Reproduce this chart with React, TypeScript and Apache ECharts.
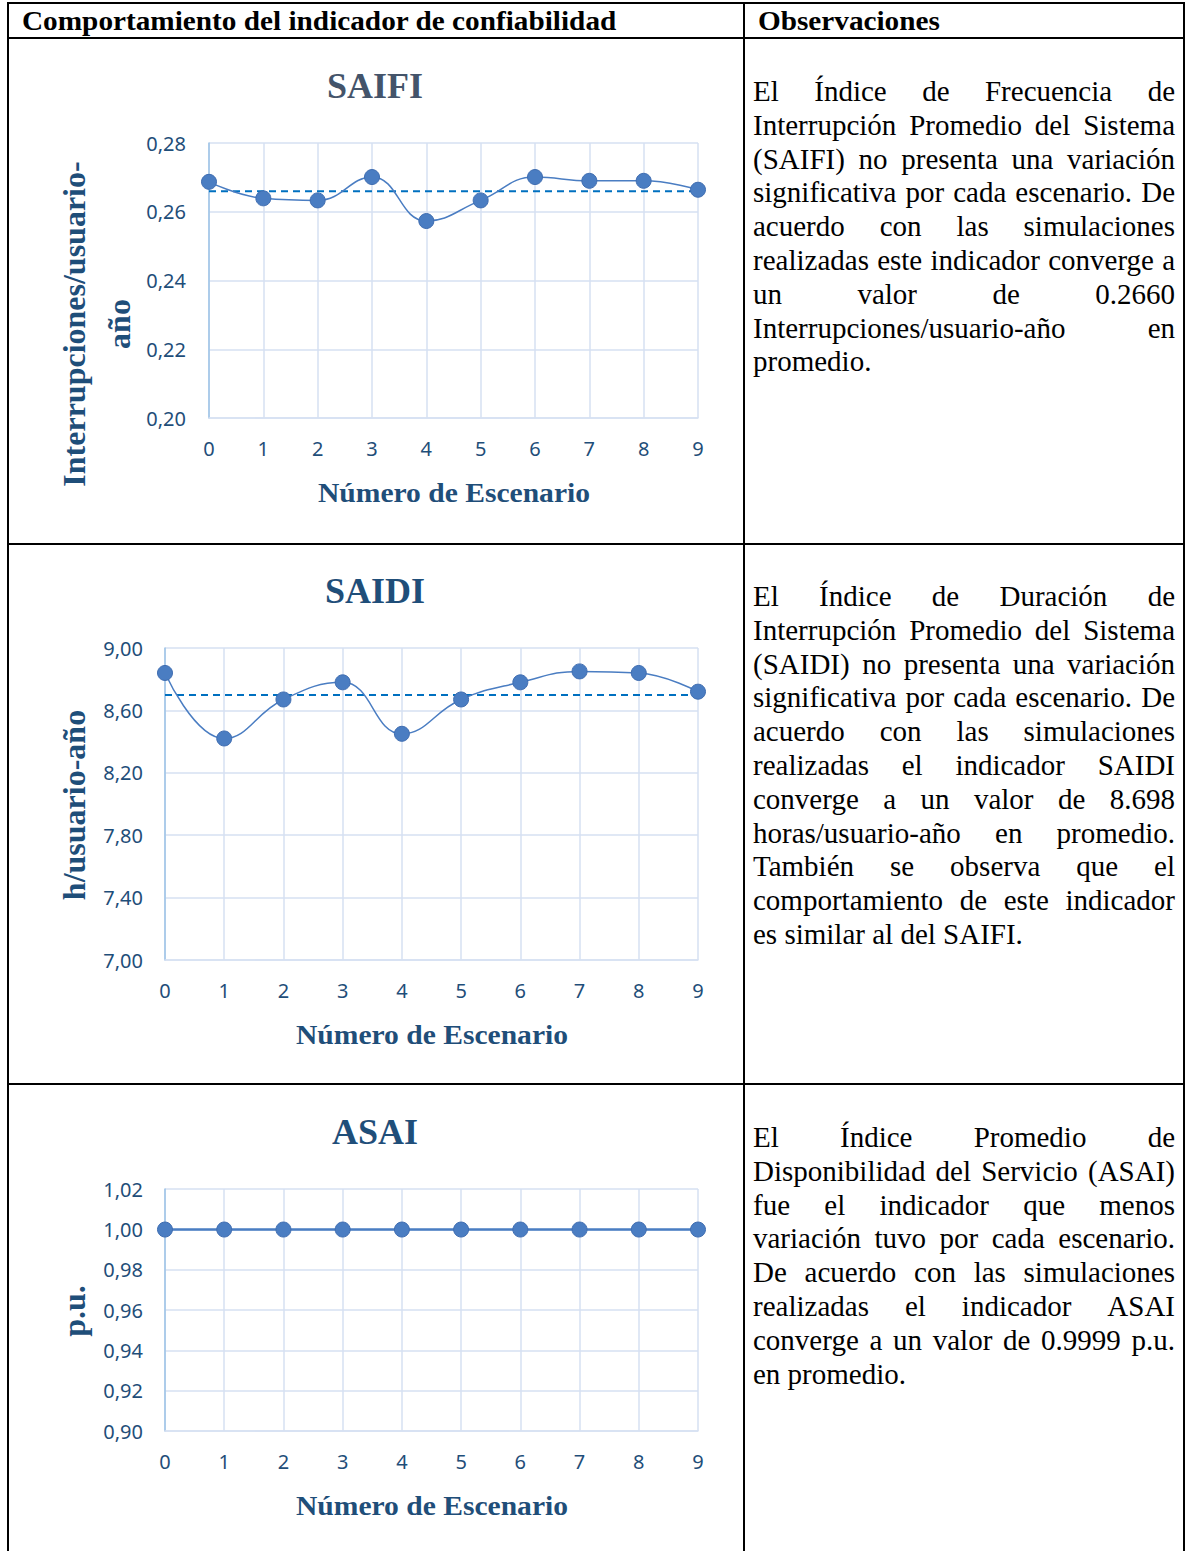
import React, { useEffect, useRef } from 'react';
import * as echarts from 'echarts';

// ---------- data ----------
const scenarios = ['0', '1', '2', '3', '4', '5', '6', '7', '8', '9'];

const saifiValues = [0.2687, 0.2639, 0.2633, 0.2701, 0.2573, 0.2633, 0.2701, 0.269, 0.269, 0.2664];
const saifiMean = 0.266;
const saifiRange = [0.2, 0.28];
const saifiStep = 0.02;

const saidiValues = [8.84, 8.42, 8.67, 8.78, 8.45, 8.67, 8.78, 8.85, 8.84, 8.72];
const saidiMean = 8.698;
const saidiRange = [7.0, 9.0];
const saidiStep = 0.4;

const asaiValues = [0.9999, 0.9999, 0.9999, 0.9999, 0.9999, 0.9999, 0.9999, 0.9999, 0.9999, 0.9999];
const asaiRange = [0.9, 1.02];
const asaiStep = 0.02;

const headerLeft = 'Comportamiento del indicador de confiabilidad';
const headerRight = 'Observaciones';
const xAxisName = 'Número de Escenario';

const para1 = [
  'El Índice de Frecuencia de',
  'Interrupción Promedio del Sistema',
  '(SAIFI) no presenta una variación',
  'significativa por cada escenario. De',
  'acuerdo con las simulaciones',
  'realizadas este indicador converge a',
  'un valor de 0.2660',
  'Interrupciones/usuario-año en',
  'promedio.',
];
const para2 = [
  'El Índice de Duración de',
  'Interrupción Promedio del Sistema',
  '(SAIDI) no presenta una variación',
  'significativa por cada escenario. De',
  'acuerdo con las simulaciones',
  'realizadas el indicador SAIDI',
  'converge a un valor de 8.698',
  'horas/usuario-año en promedio.',
  'También se observa que el',
  'comportamiento de este indicador',
  'es similar al del SAIFI.',
];
const para3 = [
  'El Índice Promedio de',
  'Disponibilidad del Servicio (ASAI)',
  'fue el indicador que menos',
  'variación tuvo por cada escenario.',
  'De acuerdo con las simulaciones',
  'realizadas el indicador ASAI',
  'converge a un valor de 0.9999 p.u.',
  'en promedio.',
];

// ---------- styles ----------
const SERIF = '"Liberation Serif", "Times New Roman", serif';
const SANS = '"Noto Sans", "Open Sans", sans-serif';
const DARK_BLUE = '#1F4E79';
const GRID_COLOR = '#D6E1F2';
const AXIS_COLOR = '#9DC3E6';
const LINE_COLOR = '#4A7DC2';
const MEAN_COLOR = '#0070C0';

const measureCtx = (() => {
  const c = document.createElement('canvas');
  return c.getContext('2d') as CanvasRenderingContext2D;
})();
function measure(text: string, font: string) {
  measureCtx.font = font;
  return measureCtx.measureText(text).width;
}

function textEl(text: string, x: number, y: number, opts: any = {}) {
  const {
    size = 29,
    family = SERIF,
    weight = 'normal',
    color = '#000',
    align = 'left',
    vAlign = 'middle',
    rotation = 0,
    scaleX = 1,
    lineHeight,
  } = opts;
  return {
    type: 'text',
    x,
    y,
    rotation,
    scaleX,
    silent: true,
    style: {
      text,
      x: 0,
      y: 0,
      fontSize: size,
      fontFamily: family,
      fontWeight: weight,
      fill: color,
      align,
      verticalAlign: vAlign,
      textAlign: align,
      textVerticalAlign: vAlign,
      lineHeight,
    },
  };
}

function fitScale(text: string, size: number, weight: string, target: number) {
  const w = measure(text, `${weight} ${size}px ${SERIF}`);
  return w > 0 ? target / w : 1;
}

function justifiedParagraph(lines: string[], x0: number, width: number, y0: number, lh: number) {
  const size = 29;
  const font = `${size}px ${SERIF}`;
  const els: any[] = [];
  lines.forEach((line, li) => {
    const y = y0 + li * lh;
    const words = line.split(/\s+/).filter(Boolean);
    const last = li === lines.length - 1;
    if (last || words.length < 2) {
      els.push(textEl(line, x0, y, { size }));
      return;
    }
    const ws = words.map((w) => measure(w, font));
    const sum = ws.reduce((a, b) => a + b, 0);
    const gap = (width - sum) / (words.length - 1);
    let x = x0;
    words.forEach((w, i) => {
      els.push(textEl(w, x, y, { size }));
      x += ws[i] + gap;
    });
  });
  return els;
}

const fmt = (v: number) => v.toFixed(2).replace('.', ',');

function makeGrid(left: number, top: number, width: number, height: number) {
  return { left, top, width, height, containLabel: false };
}

function makeX(gridIndex: number) {
  return {
    type: 'category',
    gridIndex,
    data: scenarios,
    boundaryGap: false,
    axisLine: { show: true, lineStyle: { color: GRID_COLOR, width: 1.5 } },
    axisTick: { show: false },
    axisLabel: { color: DARK_BLUE, fontFamily: SANS, fontSize: 20, margin: 20 },
    splitLine: { show: true, lineStyle: { color: GRID_COLOR, width: 1.5 } },
  };
}

function makeY(gridIndex: number, range: number[], step: number, margin: number) {
  return {
    type: 'value',
    gridIndex,
    min: range[0],
    max: range[1],
    interval: step,
    axisLine: { show: true, lineStyle: { color: AXIS_COLOR, width: 1.5 } },
    axisTick: { show: false },
    axisLabel: { color: DARK_BLUE, fontFamily: SANS, fontSize: 20, margin, formatter: fmt },
    splitLine: { show: true, lineStyle: { color: GRID_COLOR, width: 1.5 } },
  };
}

function makeSeries(idx: number, data: number[], lineWidth: number) {
  return {
    type: 'line',
    xAxisIndex: idx,
    yAxisIndex: idx,
    data,
    smooth: 0.45,
    symbol: 'circle',
    symbolSize: 15,
    lineStyle: { color: LINE_COLOR, width: lineWidth },
    itemStyle: { color: LINE_COLOR, borderColor: '#3F6DB1', borderWidth: 1 },
    z: 3,
  };
}

function makeMean(idx: number, mean: number) {
  return {
    type: 'line',
    xAxisIndex: idx,
    yAxisIndex: idx,
    data: scenarios.map(() => mean),
    symbol: 'none',
    silent: true,
    lineStyle: { color: MEAN_COLOR, width: 2, type: [7, 5] },
    z: 2,
  };
}

export default function App() {
  const ref = useRef<HTMLDivElement>(null);

  useEffect(() => {
    if (!ref.current) return;
    const chart = echarts.init(ref.current, undefined, { renderer: 'svg' });

    const lines: any[] = [];
    const L = (x1: number, y1: number, x2: number, y2: number) =>
      lines.push({
        type: 'line',
        silent: true,
        shape: { x1, y1, x2, y2 },
        style: { stroke: '#000', lineWidth: 2 },
        z: 10,
      });
    L(8, 3, 8, 1551);
    L(744, 3, 744, 1551);
    L(1184, 3, 1184, 1551);
    L(7, 3, 1185, 3);
    L(7, 38, 1185, 38);
    L(7, 544, 1185, 544);
    L(7, 1084, 1185, 1084);

    const hdrSize = 27;
    const headers = [
      textEl(headerLeft, 22, 21, {
        size: hdrSize,
        weight: 'bold',
        scaleX: fitScale(headerLeft, hdrSize, 'bold', 595),
      }),
      textEl(headerRight, 758, 21, {
        size: hdrSize,
        weight: 'bold',
        scaleX: fitScale(headerRight, hdrSize, 'bold', 182),
      }),
    ];

    const nameSize = 28;
    const nameScale = fitScale(xAxisName, nameSize, 'bold', 272);
    const chartTexts = [
      textEl('SAIFI', 375, 86, { size: 36, weight: 'bold', color: '#44546A', align: 'center' }),
      textEl('SAIDI', 375, 591, { size: 36, weight: 'bold', color: DARK_BLUE, align: 'center' }),
      textEl('ASAI', 375, 1132, { size: 36, weight: 'bold', color: DARK_BLUE, align: 'center' }),
      textEl(xAxisName, 454, 492, { size: nameSize, weight: 'bold', color: DARK_BLUE, align: 'center', scaleX: nameScale }),
      textEl(xAxisName, 432, 1034, { size: nameSize, weight: 'bold', color: DARK_BLUE, align: 'center', scaleX: nameScale }),
      textEl(xAxisName, 432, 1505, { size: nameSize, weight: 'bold', color: DARK_BLUE, align: 'center', scaleX: nameScale }),
      textEl('Interrupciones/usuario-\naño', 96, 324, {
        size: 32,
        weight: 'bold',
        color: DARK_BLUE,
        align: 'center',
        rotation: Math.PI / 2,
        lineHeight: 45,
      }),
      textEl('h/usuario-año', 74, 805, { size: 32, weight: 'bold', color: DARK_BLUE, align: 'center', rotation: Math.PI / 2 }),
      textEl('p.u.', 74, 1311, { size: 32, weight: 'bold', color: DARK_BLUE, align: 'center', rotation: Math.PI / 2 }),
    ];

    const paragraphs = [
      ...justifiedParagraph(para1, 753, 422, 91, 33.8),
      ...justifiedParagraph(para2, 753, 422, 596, 33.8),
      ...justifiedParagraph(para3, 753, 422, 1137, 33.8),
    ];

    chart.setOption({
      animation: false,
      backgroundColor: '#fff',
      grid: [makeGrid(209, 143, 489, 275), makeGrid(165, 648, 533, 312), makeGrid(165, 1189, 533, 242)],
      xAxis: [makeX(0), makeX(1), makeX(2)],
      yAxis: [makeY(0, saifiRange, saifiStep, 23), makeY(1, saidiRange, saidiStep, 22), makeY(2, asaiRange, asaiStep, 22)],
      series: [
        makeMean(0, saifiMean),
        makeSeries(0, saifiValues, 1.5),
        makeMean(1, saidiMean),
        makeSeries(1, saidiValues, 1.5),
        makeSeries(2, asaiValues, 2.5),
      ],
      graphic: { elements: [...lines, ...headers, ...chartTexts, ...paragraphs] },
    });

    return () => chart.dispose();
  }, []);

  return (
    <div
      ref={ref}
      style={{ position: 'absolute', left: 0, top: 0, width: 1186, height: 1551, background: '#fff' }}
    />
  );
}
